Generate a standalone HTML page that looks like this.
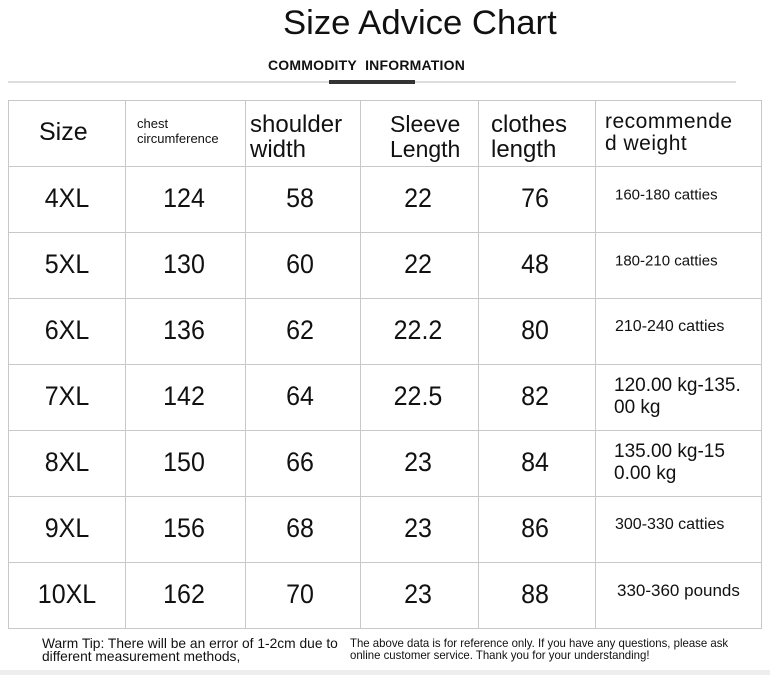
<!DOCTYPE html>
<html><head><meta charset="utf-8"><style>
body{margin:0;width:770px;height:675px;background:#fff;position:relative;overflow:hidden;font-family:"Liberation Sans","DejaVu Sans",sans-serif;color:#111}
.a{position:absolute;white-space:nowrap}
.vl{position:absolute;top:100px;height:528px;width:1px;background:#c8c8c8}
.hl{position:absolute;left:8px;width:754px;height:1px;background:#c8c8c8}
.c{position:absolute;text-align:center;font-size:25px;transform:translateY(-50%) scaleY(1.08)}
.w{position:absolute;font-size:15px;transform:translateY(-50%)}
</style></head><body>
<div class="a" style="left:283px;top:4px;font-size:34px;transform:scaleX(1.02);transform-origin:left">Size Advice Chart</div>
<div class="a" style="left:268px;top:57px;font-size:14px;font-weight:bold;letter-spacing:0.2px">COMMODITY&nbsp; INFORMATION</div>
<div class="a" style="left:8px;top:81px;width:728px;height:2px;background:#ddd"></div>
<div class="a" style="left:329px;top:80px;width:86px;height:4px;background:#333"></div>

<div class="vl" style="left:8px"></div><div class="vl" style="left:125px"></div><div class="vl" style="left:245px"></div><div class="vl" style="left:360px"></div><div class="vl" style="left:478px"></div><div class="vl" style="left:595px"></div><div class="vl" style="left:761px"></div>
<div class="hl" style="top:100px"></div><div class="hl" style="top:166px"></div><div class="hl" style="top:232px"></div><div class="hl" style="top:298px"></div><div class="hl" style="top:364px"></div><div class="hl" style="top:430px"></div><div class="hl" style="top:496px"></div><div class="hl" style="top:562px"></div><div class="hl" style="top:628px"></div>

<div class="a" style="left:39px;top:118px;font-size:25px">Size</div>
<div class="a" style="left:137px;top:116px;font-size:13px;line-height:15px">chest<br>circumference</div>
<div class="a" style="left:250px;top:112px;font-size:24px;line-height:25px">shoulder<br>width</div>
<div class="a" style="left:390px;top:112px;font-size:23px;line-height:25px">Sleeve<br>Length</div>
<div class="a" style="left:491px;top:112px;font-size:24px;line-height:25px">clothes<br>length</div>
<div class="a" style="left:605px;top:111px;font-size:21px;line-height:22px;letter-spacing:0.5px">recommende<br>d weight</div>

<div id="rows"></div>
<script>
var d=[["4XL",124,58,22,76,"160-180 catties",15],["5XL",130,60,22,48,"180-210 catties",15],["6XL",136,62,"22.2",80,"210-240 catties",16],["7XL",142,64,"22.5",82,"120.00 kg-135.<br>00 kg",19],["8XL",150,66,23,84,"135.00 kg-15<br>0.00 kg",19],["9XL",156,68,23,86,"300-330 catties",16],["10XL",162,70,23,88,"330-360 pounds",17]];
var cx=[67,184,300,418,535];var h="";
d.forEach(function(r,i){var y=199+66*i;
for(var j=0;j<5;j++)h+='<div class="c" style="left:'+(cx[j]-50)+'px;width:100px;top:'+y+'px">'+r[j]+'</div>';
var lh=r[6]>18?'line-height:22px;':'';
h+='<div class="w" style="left:'+(r[6]>18?614:(r[6]==17?617:615))+'px;top:'+(y-4+(r[6]>18?4:0))+'px;font-size:'+r[6]+'px;'+lh+'">'+r[5]+'</div>';});
document.getElementById('rows').innerHTML=h;
</script>

<div class="a" style="left:42px;top:637px;font-size:14px;line-height:13px;transform:scaleX(0.985);transform-origin:left">Warm Tip: There will be an error of 1-2cm due to<br>different measurement methods,</div>
<div class="a" style="left:350px;top:637px;font-size:12px;line-height:12px;transform:scaleX(0.95);transform-origin:left">The above data is for reference only. If you have any questions, please ask<br>online customer service. Thank you for your understanding!</div>
<div class="a" style="left:0;top:670px;width:770px;height:5px;background:#eee"></div>
</body></html>
